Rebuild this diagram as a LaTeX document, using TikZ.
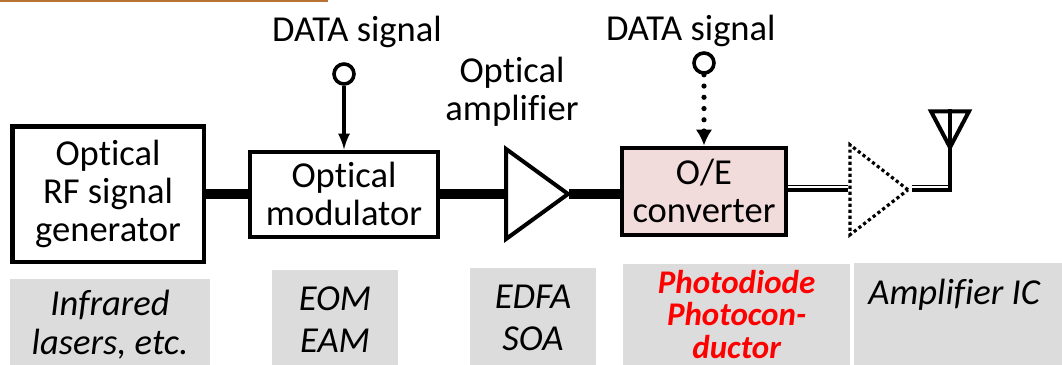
\documentclass[tikz,border=0pt]{standalone}
\usepackage{fontspec}
\setmainfont[Ligatures=NoCommon]{Carlito}
\usetikzlibrary{shapes, calc, arrows, arrows.meta, positioning}
\definecolor{oebox}{HTML}{F2DCDB}
\definecolor{techgray}{HTML}{DCDCDC}
\definecolor{topbar}{HTML}{B87333}
\tikzset{
  block/.style={draw, line width=0.1cm, align=center, font=\fontsize{26}{27}\selectfont, inner sep=0cm},
  caption/.style={align=center, font=\fontsize{26}{27}\selectfont, inner sep=0cm},
  tech/.style={fill=techgray, align=center, inner sep=0cm, font=\itshape\fontsize{26}{30}\selectfont},
  port/.style={draw, circle, line width=0.09cm, minimum size=0.5cm, inner sep=0cm},
  amp/.style={draw, isosceles triangle, isosceles triangle stretches, inner sep=0cm, minimum width=2.25cm, minimum height=1.55cm},
  fiber/.style={line width=0.25cm},
  wire/.style={line width=0.1cm},
}
\begin{document}
\begin{tikzpicture}[>=latex]
    \useasboundingbox (0,0) rectangle (26.55,-9.125);
    \fill[topbar] (0,0) rectangle (8.2,-0.06);

    \node[block, minimum width=4.775cm, minimum height=3.375cm] (generator) at (2.7,-4.85) {Optical\\RF signal\\generator};
    \node[block, right of=generator, node distance=5.9cm, minimum width=4.7cm, minimum height=2.125cm] (modulator) {Optical\\modulator};
    \node[amp, line width=0.1cm, right of=modulator, node distance=4.625cm] (optamp) {};
    \node[block, fill=oebox, right of=modulator, node distance=9cm, yshift=0.075cm, minimum width=4.1cm, minimum height=2.175cm] (converter) {O/E\\converter};
    \node[amp, dotted, line width=0.08cm, minimum height=1.45cm, right of=converter, node distance=4.2cm, yshift=0.03cm] (icamp) {};

    \node[port, above of=modulator, node distance=3cm] (data1) {};
    \node[caption, above of=data1, node distance=1.05cm, xshift=0.325cm] (data1label) {DATA signal};
    \node[port, above of=converter, node distance=3.2cm] (data2) {};
    \node[caption, above of=data2, node distance=0.8cm, xshift=-0.33cm] (data2label) {DATA signal};
    \node[caption, above of=optamp, node distance=2.55cm, xshift=-0.425cm] (optamplabel) {Optical\\amplifier};

    \node[draw, isosceles triangle, isosceles triangle stretches, shape border rotate=-90, line width=0.1cm, inner sep=0cm, minimum width=0.95cm, minimum height=0.9cm] (antenna) at (23.75,-3.07) {};
    \coordinate (corner) at (antenna.apex |- icamp.apex);

    \draw[fiber] (generator) -- (modulator);
    \draw[fiber] (modulator) -- (optamp.lower side);
    \draw[fiber] ([xshift=-0.1cm]optamp.apex) -- (converter.west |- optamp.apex);
    \draw[->, wire] (data1) -- (modulator);
    \draw[-{Latex[length=0.4cm,width=0.42cm]}, line width=0.13cm, dash pattern=on 0pt off 8pt, line cap=round] (data2) -- (converter);

    \draw[line width=0.03cm] ([yshift=0.11cm]converter.east |- icamp.lower side) -- ([yshift=0.11cm]icamp.lower side);
    \draw[wire] (converter.east |- icamp.lower side) -- (icamp.lower side);
    \draw[line width=0.03cm] ([yshift=0.11cm]icamp.apex) -- ([yshift=0.11cm]corner);
    \draw[wire] (icamp.apex) -- (corner);
    \draw[wire] ([yshift=-0.05cm]corner) -- (antenna.lower side);

    \node[tech, below of=generator, node distance=3.2cm, xshift=0.05cm, minimum width=5cm, minimum height=2.15cm, text depth=0cm, font=\itshape\fontsize{26}{28}\selectfont] (lasers) {Infrared\\lasers, etc.};
    \node[tech, below of=modulator, node distance=3.08cm, xshift=-0.225cm, minimum width=3.15cm, minimum height=2.375cm, text height=1.75cm] (eom) {EOM\\EAM};
    \node[tech, right of=eom, node distance=4.95cm, yshift=0.025cm, minimum width=3.15cm, minimum height=2.43cm, text height=1.73cm] (edfa) {EDFA\\SOA};
    \node[tech, right of=edfa, node distance=5.09cm, yshift=0.05cm, minimum width=5.67cm, minimum height=2.52cm, text=red, text height=2.2cm, font=\bfseries\itshape\fontsize{23.5}{23}\selectfont] (diode) {Photodiode\\Photocon-\\ductor};
    \node[tech, right of=diode, node distance=5.54cm, yshift=0.0125cm, minimum width=5.2cm, minimum height=2.55cm, text depth=1.1cm] (ampic) {Amplifier IC\hspace*{0.2cm}};
\end{tikzpicture}
\end{document}
